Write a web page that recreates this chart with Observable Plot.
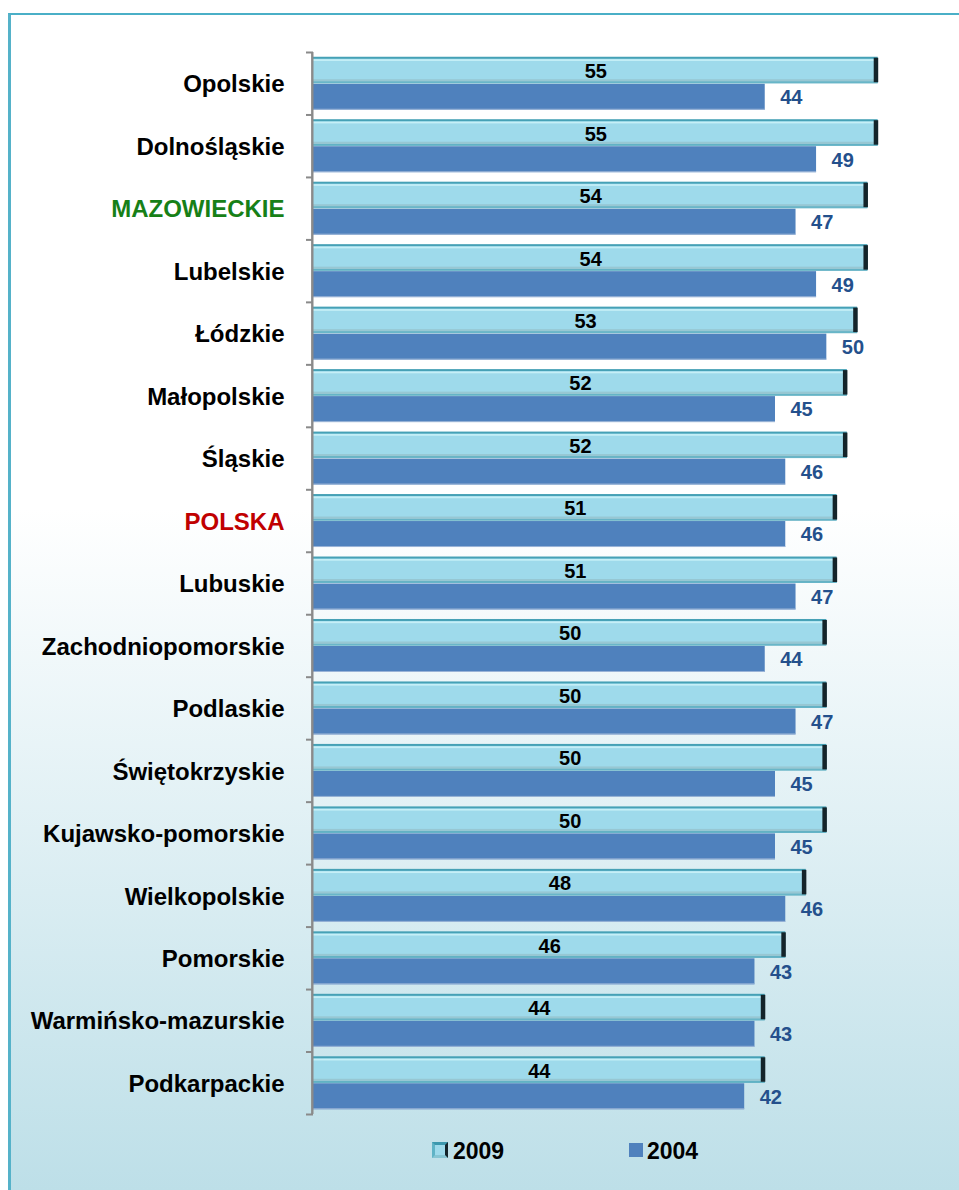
<!DOCTYPE html>
<html><head><meta charset="utf-8">
<script src="https://cdn.jsdelivr.net/npm/d3@7"></script>
<script src="https://cdn.jsdelivr.net/npm/@observablehq/plot@0.6"></script>
<style>
html, body { margin: 0; padding: 0; background: #fff; }
body { width: 959px; height: 1190px; position: relative; overflow: hidden; font-family: 'Liberation Sans', Arial, sans-serif; }
#frame { position: absolute; left: 8px; top: 13px; right: 0; bottom: 0;
  border-top: 2px solid #4aafc7; border-left: 3px solid #55b2c9;
  background: linear-gradient(to bottom, #ffffff 0%, #ffffff 42%, #bddfe8 100%); }
#chart { position: absolute; left: 0; top: 0; }
#legend { position: absolute; left: 0; top: 0; width: 959px; height: 1190px; pointer-events: none; }
.sw { position: absolute; box-sizing: border-box; }
.lt { position: absolute; font-size: 23px; line-height: 23px; font-weight: bold; color: #000; }
</style></head>
<body>
<div id="frame"></div>
<div id="chart"></div>
<div id="legend"></div>
<script>
const regions = ["Opolskie","Dolnośląskie","MAZOWIECKIE","Lubelskie","Łódzkie","Małopolskie","Śląskie","POLSKA","Lubuskie","Zachodniopomorskie","Podlaskie","Świętokrzyskie","Kujawsko-pomorskie","Wielkopolskie","Pomorskie","Warmińsko-mazurskie","Podkarpackie"];
const values2009 = [55,55,54,54,53,52,52,51,51,50,50,50,50,48,46,44,44];
const values2004 = [44,49,47,49,50,45,46,46,47,44,47,45,45,46,43,43,42];
const seriesNames = ["2009","2004"];

const rows = regions.map((r, i) => ({region: r, v2009: values2009[i], v2004: values2004[i]}));
const specialColors = {"MAZOWIECKIE": "#178017", "POLSKA": "#c00000"};
const labelColor = r => specialColors[r] || "#000000";
const ff = "'Liberation Sans', Arial, sans-serif";
const half = 26.5; // half of band (px)
const stepHalf = 31.24;
const axisColor = "#8a8a8a";

const chart = Plot.plot({
  width: 959, height: 1130,
  marginLeft: 313, marginRight: 30, marginTop: 52, marginBottom: 16,
  x: {domain: [0, 60], axis: null},
  y: {domain: regions, paddingInner: 0.152, paddingOuter: 0.076, round: false, axis: null},
  style: {background: "transparent", fontFamily: ff, overflow: "visible"},
  marks: [
    // 2004 bars
    Plot.barX(rows, {y: "region", x: "v2004", fill: "#4f81bd", insetTop: 27, insetBottom: 0}),
    Plot.barX(rows, {y: "region", x: "v2004", fill: "#9db6d8", insetTop: 52, insetBottom: 0}),
    // 2009 bevel bars
    Plot.barX(rows, {y: "region", x: "v2009", fill: "#46a1b6", insetTop: 0, insetBottom: half}),
    Plot.barX(rows, {y: "region", x: "v2009", fill: "#9edaeb", insetTop: 2, insetBottom: half + 2}),
    Plot.barX(rows, {y: "region", x: "v2009", fill: "#c6eff7", insetTop: 2.5, insetBottom: 53 - 4.2}),
    Plot.barX(rows, {y: "region", x: "v2009", fill: "#97c7d3", insetTop: 22.5, insetBottom: half + 1.6}),
    Plot.barX(rows, {y: "region", x: "v2009", fill: "#68b6c8", insetTop: 25, insetBottom: half}),
    Plot.tickX(rows, {y: "region", x: "v2009", stroke: "#14242a", strokeWidth: 4.5, dx: -2.2, insetTop: 1, insetBottom: half + 1}),
    // axis line and boundary ticks
    Plot.ruleX([0], {stroke: axisColor, strokeWidth: 2.4, dx: -1.2}),
    Plot.axisY({tickSize: 7, tickFormat: () => "", label: null, dy: -stepHalf, stroke: axisColor, strokeWidth: 2}),
    Plot.axisY({ticks: [regions[regions.length - 1]], tickSize: 7, tickFormat: () => "", label: null, dy: stepHalf, stroke: axisColor, strokeWidth: 2}),
    // value labels
    Plot.text(rows, {y: "region", x: d => d.v2009 / 2, text: "v2009", dy: -12, fill: "#000", fontSize: 20, fontWeight: "bold"}),
    Plot.text(rows, {y: "region", x: "v2004", text: "v2004", dx: 15, dy: 14, textAnchor: "start", fill: "#24508c", fontSize: 20, fontWeight: "bold"}),
    // category labels
    Plot.text(regions, {y: d => d, text: d => d, frameAnchor: "left", textAnchor: "end", dx: -29, dy: 1, fill: labelColor, fontSize: 24, fontWeight: "bold"})
  ]
});
document.getElementById("chart").appendChild(chart);

// legend
const legend = document.getElementById("legend");
const items = [
  {name: seriesNames[0], sw: {left: 432, top: 1142, size: 16, style: "background:#9edaeb;border-top:3px solid #3c98ae;border-left:3px solid #5fb3c6;border-bottom:3px solid #86c5d3;border-right:3px solid #14242a;"}, tx: 453},
  {name: seriesNames[1], sw: {left: 629, top: 1143, size: 14, style: "background:#4f81bd;"}, tx: 647}
];
items.forEach(it => {
  const s = document.createElement("div");
  s.className = "sw";
  s.style.cssText = `left:${it.sw.left}px;top:${it.sw.top}px;width:${it.sw.size}px;height:${it.sw.size}px;` + it.sw.style;
  legend.appendChild(s);
  const t = document.createElement("div");
  t.className = "lt";
  t.style.left = it.tx + "px";
  t.style.top = "1139.5px";
  t.textContent = it.name;
  legend.appendChild(t);
});
</script>
</body></html>
